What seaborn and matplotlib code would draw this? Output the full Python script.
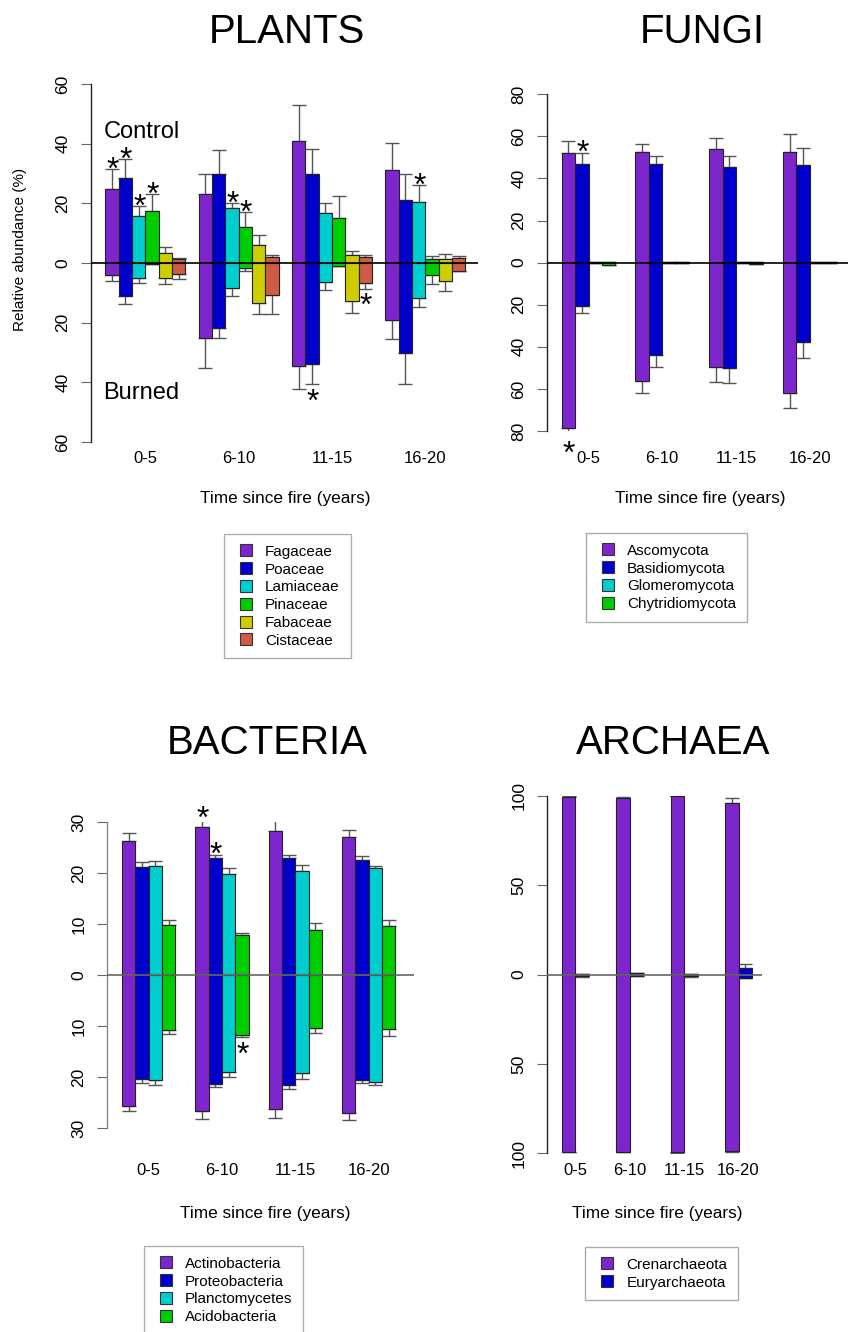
import numpy as np
import pandas as pd
import matplotlib
matplotlib.use('Agg')
import matplotlib.pyplot as plt
from matplotlib.lines import Line2D
import seaborn as sns

W, H = 848, 1332

groups = ['0-5', '6-10', '11-15', '16-20']
colors = ['#7D26CD', '#0000CD', '#00CDCD', '#00CD00', '#CDCD00', '#CD5B45']

# PLANTS: rows = taxa, columns = time groups
plant_taxa = ['Fagaceae', 'Poaceae', 'Lamiaceae', 'Pinaceae', 'Fabaceae', 'Cistaceae']
plant_ctrl = [[24.7, 23.1, 40.9, 31.2],
              [28.4, 29.7, 29.8, 21.1],
              [15.8, 18.3, 16.6, 20.5],
              [17.4, 12.2, 15.1, 1.3],
              [3.4, 6.2, 2.8, 1.5],
              [1.3, 1.9, 2.1, 1.7]]
plant_ctrl_err = [[6.7, 6.7, 12.0, 8.9],
                  [6.4, 8.1, 8.3, 8.7],
                  [3.2, 1.9, 3.4, 5.5],
                  [5.7, 5.0, 7.4, 0.9],
                  [1.8, 3.1, 1.1, 1.4],
                  [0.4, 0.9, 0.7, 0.5]]
plant_burn = [[4.1, 25.2, 34.6, 19.1],
              [11.0, 21.7, 33.9, 30.2],
              [4.9, 8.3, 6.5, 11.7],
              [0.2, 1.6, 0.9, 4.1],
              [4.9, 13.3, 12.7, 6.0],
              [3.7, 10.7, 6.6, 2.6]]
plant_burn_err = [[2.1, 10.1, 7.7, 6.5],
                  [2.7, 3.4, 6.7, 10.2],
                  [1.7, 2.7, 2.7, 3.1],
                  [0.1, 1.1, 0.2, 2.9],
                  [2.1, 3.9, 4.1, 3.4],
                  [1.8, 6.5, 2.0, 0.2]]
# (group, taxon, side) of significant differences
plant_stars = [(0, 0, 1), (0, 1, 1), (0, 2, 1), (0, 3, 1), (1, 2, 1), (1, 3, 1),
               (2, 1, -1), (2, 5, -1), (3, 2, 1)]

# FUNGI
fungi_taxa = ['Ascomycota', 'Basidiomycota', 'Glomeromycota', 'Chytridiomycota']
fungi_ctrl = [[52.1, 52.5, 53.9, 52.6],
              [46.7, 47.1, 45.5, 46.6],
              [0.1, 0.1, 0.1, 0.2],
              [0.3, 0.2, 0.2, 0.1]]
fungi_ctrl_err = [[5.9, 3.8, 5.5, 8.4],
                  [5.6, 3.8, 5.4, 8.1],
                  [0.0, 0.0, 0.0, 0.0],
                  [0.0, 0.0, 0.0, 0.0]]
fungi_burn = [[78.8, 56.3, 49.6, 62.1],
              [20.4, 43.9, 49.9, 37.9],
              [0.1, 0.1, 0.1, 0.3],
              [1.0, 0.2, 0.5, 0.1]]
fungi_burn_err = [[3.6, 5.8, 7.0, 7.2],
                  [3.4, 5.5, 7.1, 7.3],
                  [0.0, 0.0, 0.0, 0.0],
                  [0.2, 0.0, 0.0, 0.0]]
fungi_stars = [(0, 0, -1), (0, 1, 1)]

# BACTERIA
bact_taxa = ['Actinobacteria', 'Proteobacteria', 'Planctomycetes', 'Acidobacteria']
bact_ctrl = [[26.2, 29.1, 28.2, 27.1],
             [21.2, 23.0, 22.9, 22.5],
             [21.3, 19.8, 20.4, 21.0],
             [9.9, 7.9, 8.8, 9.6]]
bact_ctrl_err = [[1.6, 1.6, 2.6, 1.3],
                 [0.9, 0.6, 0.6, 0.9],
                 [1.0, 1.2, 1.2, 0.3],
                 [0.9, 0.3, 1.4, 1.2]]
bact_burn = [[25.7, 26.7, 26.3, 27.0],
             [20.4, 21.3, 21.6, 20.6],
             [20.6, 19.1, 19.3, 21.0],
             [10.8, 11.8, 10.3, 10.6]]
bact_burn_err = [[1.0, 1.5, 1.8, 1.5],
                 [0.8, 0.6, 0.7, 0.6],
                 [1.0, 0.9, 1.1, 0.6],
                 [0.7, 0.4, 1.0, 1.4]]
bact_stars = [(1, 0, 1), (1, 1, 1), (1, 3, -1)]

# ARCHAEA
arch_taxa = ['Crenarchaeota', 'Euryarchaeota']
arch_ctrl = [[99.6, 99.1, 99.8, 96.3],
             [0.4, 0.8, 0.3, 3.5]]
arch_ctrl_err = [[0.2, 0.2, 0.1, 2.8],
                 [0.2, 0.2, 0.2, 2.7]]
arch_burn = [[99.1, 99.1, 99.4, 98.9],
             [1.0, 0.8, 0.7, 1.7]]
arch_burn_err = [[0.3, 0.3, 0.2, 0.4],
                 [0.2, 0.2, 0.8, 0.3]]
arch_stars = []

sns.set_theme(style='ticks')
plt.rcParams['font.family'] = ['Liberation Sans', 'DejaVu Sans']
plt.rcParams['text.color'] = 'black'
plt.rcParams['axes.labelcolor'] = 'black'
plt.rcParams['xtick.color'] = 'black'
plt.rcParams['ytick.color'] = 'black'

fig = plt.figure(figsize=(W / 100, H / 100), dpi=100)


def ftext(x, y, s, **kw):
    fig.text(x / W, 1 - y / H, s, **kw)


def panel(lay, taxa, ctrl, ctrl_err, burn, burn_err, stars, title):
    left, right, top, bottom = lay['box']
    ax = fig.add_axes([left / W, 1 - bottom / H, (right - left) / W, (bottom - top) / H])
    rows = []
    for s, taxon in enumerate(taxa):
        for g in range(len(groups)):
            rows.append(dict(pos=g * lay['period'] + s + 0.5, taxon=taxon,
                             ctrl=ctrl[s][g], ctrl_err=ctrl_err[s][g],
                             burn=-burn[s][g], burn_err=burn_err[s][g]))
    df = pd.DataFrame(rows)
    pal = colors[:len(taxa)]
    for col in ['ctrl', 'burn']:
        sns.barplot(data=df, x='pos', y=col, hue='taxon', hue_order=taxa, palette=pal,
                    native_scale=True, dodge=False, width=1, errorbar=None, legend=False,
                    saturation=1, edgecolor='#222222', linewidth=0.8, ax=ax)
    z = np.zeros(len(df))
    ax.errorbar(df['pos'], df['ctrl'], yerr=[z, df['ctrl_err']], fmt='none',
                ecolor=lay['ecol'], elinewidth=1, capsize=5, capthick=1, zorder=0.5)
    ax.errorbar(df['pos'], df['burn'], yerr=[df['burn_err'], z], fmt='none',
                ecolor=lay['ecol'], elinewidth=1, capsize=5, capthick=1, zorder=0.5)
    ax.axhline(0, color=lay['zcol'], lw=1.2, zorder=3)

    for g, s, side in stars:
        if side > 0:
            yv = ctrl[s][g] + ctrl_err[s][g]
        else:
            yv = -(burn[s][g] + burn_err[s][g])
        ax.annotate('*', xy=(g * lay['period'] + s + 0.5, yv),
                    xytext=(0.5, side * 6 - 13), textcoords='offset points',
                    ha='center', va='baseline', fontsize=23, annotation_clip=False)

    lim = lay['lim']
    ax.set_ylim(-lim, lim)
    first = lay['first']
    unit = lay['unit']
    ax.set_xlim((left - first) / unit, (right - first) / unit)
    ticks = np.arange(-lim, lim + 1, lay['step'])
    ax.set_yticks(ticks, labels=[str(abs(int(t))) for t in ticks])
    centers = [g * lay['period'] + len(taxa) / 2 for g in range(len(groups))]
    ax.set_xticks(centers, labels=groups)
    ax.tick_params(axis='x', length=0, pad=lay['xpad'], labelsize=12, labelcolor='black')
    ax.tick_params(axis='y', length=7, width=0.8, color='#666666', pad=8,
                   labelsize=12.5, labelrotation=90, labelcolor='black')
    for lab in ax.get_yticklabels():
        lab.set_va('center')
    ax.set_xlabel('')
    ax.set_ylabel('')
    for sp in ['top', 'right', 'bottom']:
        ax.spines[sp].set_visible(False)
    ax.spines['left'].set_color(lay['acol'])
    ax.spines['left'].set_linewidth(1)
    ax.set_facecolor('none')

    tx, ty = lay['title']
    ftext(tx, ty, title, ha='center', va='baseline', fontsize=29)
    lx, ly = lay['xlab']
    ftext(lx, ly, 'Time since fire (years)', ha='center', va='baseline', fontsize=12.4)

    handles = [Line2D([], [], ls='none', marker='s', ms=8, mfc=c, mec='#333333', mew=0.8)
               for c in pal]
    gx, gy = lay['legend']
    leg = ax.legend(handles, taxa, loc='upper left', bbox_to_anchor=(gx / W, 1 - gy / H),
                    bbox_transform=fig.transFigure, borderaxespad=0, frameon=True,
                    fancybox=False, edgecolor='#999999', fontsize=11, handlelength=1.5,
                    handletextpad=0.5, labelspacing=0.25, borderpad=0.7)
    leg.get_frame().set_linewidth(1)
    return ax


plant_lay = dict(box=(91, 478, 84, 442), first=105.3, unit=13.33, period=7, lim=60, step=20,
                 xpad=6.5, title=(287, 43), xlab=(285, 503), legend=(224, 534),
                 ecol='#555555', zcol='black', acol='#222222')
fungi_lay = dict(box=(547, 848, 94.3, 431), first=561.7, unit=13.4, period=5.5, lim=80, step=20,
                 xpad=14.4, title=(702, 43), xlab=(700, 503), legend=(586, 533),
                 ecol='#555555', zcol='black', acol='#222222')
bact_lay = dict(box=(107.3, 414, 822, 1128), first=122, unit=13.33, period=5.5, lim=30, step=10,
                xpad=25, title=(267, 754), xlab=(265, 1218), legend=(144, 1246),
                ecol='#555555', zcol='#666666', acol='#888888')
arch_lay = dict(box=(547.3, 762, 796, 1153.3), first=561.7, unit=13.6, period=4, lim=100, step=50,
                xpad=7.2, title=(673, 754), xlab=(657, 1218), legend=(585, 1247),
                ecol='#555555', zcol='#666666', acol='#222222')

panel(plant_lay, plant_taxa, plant_ctrl, plant_ctrl_err, plant_burn, plant_burn_err,
      plant_stars, 'PLANTS')
panel(fungi_lay, fungi_taxa, fungi_ctrl, fungi_ctrl_err, fungi_burn, fungi_burn_err,
      fungi_stars, 'FUNGI')
panel(bact_lay, bact_taxa, bact_ctrl, bact_ctrl_err, bact_burn, bact_burn_err,
      bact_stars, 'BACTERIA')
panel(arch_lay, arch_taxa, arch_ctrl, arch_ctrl_err, arch_burn, arch_burn_err,
      arch_stars, 'ARCHAEA')

ftext(104, 138, 'Control', ha='left', va='baseline', fontsize=17)
ftext(103, 399, 'Burned', ha='left', va='baseline', fontsize=17)
ftext(20, 249, 'Relative abundance (%)', ha='center', va='center', rotation=90, fontsize=11)

fig.savefig('out.png', dpi=100)
